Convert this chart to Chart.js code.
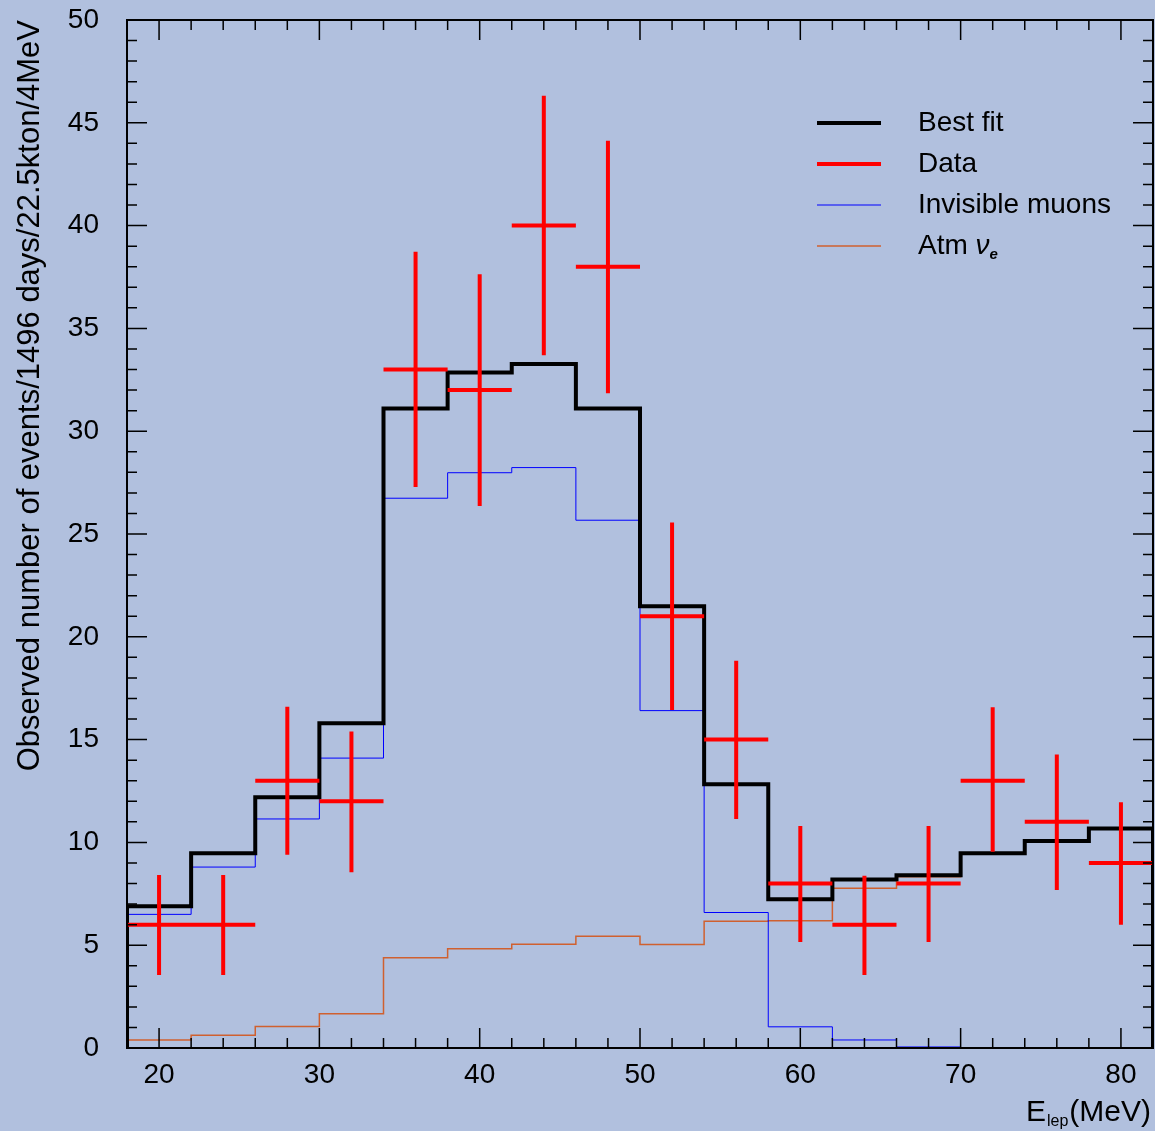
<!DOCTYPE html>
<html>
<head>
<meta charset="utf-8">
<script src="https://cdn.jsdelivr.net/npm/chart.js@4.4.1/dist/chart.umd.min.js"></script>
<style>
    html, body { margin: 0; padding: 0; background: #b1c0de; }
    #wrap { width: 1155px; height: 1131px; }
</style>
</head>
<body>
<div id="wrap"><canvas id="spectrumChart" width="1155" height="1131"></canvas></div>
<script>
// 4 MeV bins, E_lep from 18 to 82 MeV
const binEdges = [18, 22, 26, 30, 34, 38, 42, 46, 50, 54, 58, 62, 66, 70, 74, 78, 82];

const bestFit        = [6.9, 9.47, 12.2, 15.8, 31.1, 32.85, 33.27, 31.1, 21.48, 12.83, 7.23, 8.2, 8.4, 9.47, 10.07, 10.68];
const invisibleMuons = [6.5, 8.8, 11.14, 14.1, 26.74, 27.98, 28.23, 25.67, 16.41, 6.59, 1.03, 0.39, 0.05, 0.02, 0.02, 0.02];
const atmNuE         = [0.39, 0.62, 1.04, 1.67, 4.39, 4.83, 5.05, 5.43, 5.03, 6.16, 6.19, 7.77, 8.33, 9.43, 10.03, 10.64];

const dataCenters = [20, 24, 28, 32, 36, 40, 44, 48, 52, 56, 60, 64, 68, 72, 76, 80];
const dataCounts  = [6, 6, 13, 12, 33, 32, 40, 38, 21, 15, 8, 6, 8, 13, 11, 9];
const dataLow     = [3.55, 3.55, 9.4, 8.55, 27.29, 26.36, 33.69, 31.84, 16.44, 11.14, 5.16, 3.55, 5.15, 9.55, 7.68, 6.0];
const dataHigh    = [8.41, 8.41, 16.6, 15.4, 38.73, 37.63, 46.32, 44.13, 25.56, 18.84, 10.8, 8.38, 10.8, 16.57, 14.27, 11.95];

const xTickLabels = [20, 30, 40, 50, 60, 70, 80];
const yTickLabels = [0, 5, 10, 15, 20, 25, 30, 35, 40, 45, 50];

const BG = "#b1c0de";
const FONT = "\"Liberation Sans\", Arial, sans-serif";

function histPoints(values) {
    const last = binEdges.length - 1;
    const pts = [{ x: binEdges[0], y: 0 }];
    values.forEach((v, i) => pts.push({ x: binEdges[i], y: v }));
    pts.push({ x: binEdges[last], y: values[values.length - 1] });
    pts.push({ x: binEdges[last], y: 0 });
    return pts;
}

function crossPoints() {
    const pts = [];
    dataCenters.forEach((c, i) => {
        pts.push({ x: binEdges[i], y: dataCounts[i] });
        pts.push({ x: binEdges[i + 1], y: dataCounts[i] });
        pts.push({ x: binEdges[i + 1], y: null });
        pts.push({ x: c, y: dataLow[i] });
        pts.push({ x: c, y: dataHigh[i] });
        pts.push({ x: c, y: null });
    });
    return pts;
}

const backgroundPlugin = {
    id: "bg",
    beforeDraw(chart) {
        const c = chart.ctx;
        c.save();
        c.fillStyle = BG;
        c.fillRect(0, 0, chart.width, chart.height);
        c.restore();
    }
};

// frame with inward ticks on all four sides
const framePlugin = {
    id: "frame",
    afterDatasetsDraw(chart) {
        const c = chart.ctx;
        const a = chart.chartArea;
        const xs = chart.scales.x;
        const ys = chart.scales.y;
        c.save();
        c.strokeStyle = "#000";
        c.lineWidth = 2;
        c.strokeRect(a.left, a.top, a.right - a.left, a.bottom - a.top);
        c.lineWidth = 1.5;
        c.beginPath();
        for (let v = 18; v <= 82; v += 2) {
            const px = xs.getPixelForValue(v);
            const len = xTickLabels.includes(v) ? 20 : 10;
            c.moveTo(px, a.bottom); c.lineTo(px, a.bottom - len);
            c.moveTo(px, a.top); c.lineTo(px, a.top + len);
        }
        for (let v = 0; v <= 50; v += 1) {
            const py = ys.getPixelForValue(v);
            const len = yTickLabels.includes(v) ? 20 : 10;
            c.moveTo(a.left, py); c.lineTo(a.left + len, py);
            c.moveTo(a.right, py); c.lineTo(a.right - len, py);
        }
        c.stroke();
        c.restore();
    }
};

const legendPlugin = {
    id: "boxLegend",
    afterDraw(chart) {
        const c = chart.ctx;
        const rows = [123, 164, 205, 246];
        c.save();
        c.textBaseline = "middle";
        c.fillStyle = "#000";
        chart.data.datasets.forEach((ds, i) => {
            const y = rows[i];
            c.strokeStyle = ds.borderColor;
            c.lineWidth = ds.borderWidth;
            c.beginPath();
            c.moveTo(817, y);
            c.lineTo(881, y);
            c.stroke();
            c.font = "28px " + FONT;
            c.fillText(ds.label, 918, y);
            if (ds.subLabel) {
                let x = 918 + c.measureText(ds.label).width;
                c.font = "italic 28px " + FONT;
                c.fillText(ds.subLabel[0], x, y);
                x += c.measureText(ds.subLabel[0]).width;
                c.font = "bold italic 15px " + FONT;
                c.fillText(ds.subLabel[1], x, y + 9);
            }
        });
        c.restore();
    }
};

const titlePlugin = {
    id: "axisTitles",
    afterDraw(chart) {
        const c = chart.ctx;
        c.save();
        c.fillStyle = "#000";
        c.textBaseline = "alphabetic";
        // x title, right aligned
        const big = "30px " + FONT, small = "16px " + FONT;
        c.font = big;
        const wE = c.measureText("E").width;
        const wU = c.measureText("(MeV)").width;
        c.font = small;
        const wS = c.measureText("lep").width;
        let x = 1151 - wE - wS - wU - 2;
        c.font = big;
        c.fillText("E", x, 1121);
        x += wE + 1;
        c.font = small;
        c.fillText("lep", x, 1126);
        x += wS + 1;
        c.font = big;
        c.fillText("(MeV)", x, 1121);
        // y title
        c.translate(39, 20);
        c.rotate(-Math.PI / 2);
        c.textAlign = "right";
        c.font = "31px " + FONT;
        c.fillText("Observed number of events/1496 days/22.5kton/4MeV", 0, 0);
        c.restore();
    }
};

function initChart() {
    const ctx = document.getElementById("spectrumChart");
    new Chart(ctx, {
        type: "line",
        data: {
            datasets: [{
                label: "Best fit",
                data: histPoints(bestFit),
                borderColor: "#000000",
                borderWidth: 4,
                stepped: "before",
                order: 1
            }, {
                label: "Data",
                data: crossPoints(),
                borderColor: "#ff0000",
                borderWidth: 4,
                spanGaps: false,
                order: 0
            }, {
                label: "Invisible muons",
                data: histPoints(invisibleMuons),
                borderColor: "#0000ff",
                borderWidth: 1,
                stepped: "before",
                order: 2
            }, {
                label: "Atm ",
                subLabel: ["\u03bd", "e"],
                data: histPoints(atmNuE),
                borderColor: "#d0602f",
                borderWidth: 1.5,
                stepped: "before",
                order: 3
            }]
        },
        options: {
            responsive: false,
            animation: false,
            events: [],
            elements: {
                point: { radius: 0 },
                line: { tension: 0, fill: false, borderCapStyle: "butt", borderJoinStyle: "miter" }
            },
            layout: { padding: { top: 20, right: 2, left: 0, bottom: 0 } },
            scales: {
                x: {
                    type: "linear",
                    min: 18,
                    max: 82,
                    afterBuildTicks: s => { s.ticks = xTickLabels.map(v => ({ value: v })); },
                    afterFit: s => { s.height = 83; s.paddingLeft = 0; s.paddingRight = 0; },
                    grid: { display: false, drawTicks: false },
                    border: { display: false },
                    ticks: {
                        color: "#000",
                        font: { family: FONT, size: 28 },
                        padding: 10,
                        maxRotation: 0,
                        autoSkip: false
                    }
                },
                y: {
                    type: "linear",
                    min: 0,
                    max: 50,
                    afterBuildTicks: s => { s.ticks = yTickLabels.map(v => ({ value: v })); },
                    afterFit: s => { s.width = 127; s.paddingTop = 0; s.paddingBottom = 0; },
                    grid: { display: false, drawTicks: false },
                    border: { display: false },
                    ticks: {
                        color: "#000",
                        font: { family: FONT, size: 28 },
                        padding: 28,
                        autoSkip: false
                    }
                }
            },
            plugins: {
                legend: { display: false },
                tooltip: { enabled: false }
            }
        },
        plugins: [backgroundPlugin, framePlugin, legendPlugin, titlePlugin]
    });
}

document.addEventListener("DOMContentLoaded", initChart);
</script>
</body>
</html>
